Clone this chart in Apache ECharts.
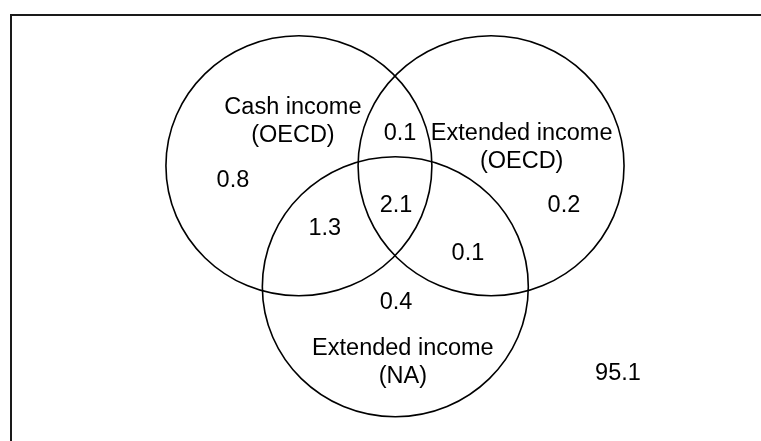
<!DOCTYPE html>
<html>
<head>
<meta charset="utf-8">
<script src="https://cdn.jsdelivr.net/npm/echarts@6/dist/echarts.min.js"></script>
<style>html,body{margin:0;padding:0;background:#fff;}#chart{width:761px;height:441px;}</style>
</head>
<body>
<div id="chart"></div>
<script>
// Venn layout (units: circle radius = 10)
const circleNames = ['Cash income (OECD)', 'Extended income (OECD)', 'Extended income (NA)'];
const circleX = [21.65, 36.1, 28.9];
const circleY = [11.6, 11.6, 20.9];
const circleR = [10, 10, 10];

const setLabels = ['Cash income\n(OECD)', 'Extended income\n(OECD)', 'Extended income\n(NA)'];
const setLabelX = [21.2, 38.4, 29.47];
const setLabelY = [8.19, 10.19, 26.73];

// region shares (%)
const regionValues = [0.8, 0.1, 0.2, 1.3, 2.1, 0.1, 0.4, 95.1];
const regionX = [16.69, 29.25, 41.58, 23.6, 28.95, 34.36, 28.95, 45.64];
const regionY = [12.77, 9.08, 14.62, 16.46, 14.62, 18.31, 22.08, 27.54];

const FONT = 'Liberation Sans, Arial, sans-serif';

const chart = echarts.init(document.getElementById('chart'), null, {renderer: 'canvas'});

const circleData = circleX.map((x, i) => [x, circleY[i], circleR[i], circleNames[i]]);
const setLabelData = setLabelX.map((x, i) => [x, setLabelY[i], setLabels[i]]);
const regionData = regionX.map((x, i) => [x, regionY[i], regionValues[i].toFixed(1)]);

function textItem(params, api) {
  const p = api.coord([api.value(0), api.value(1)]);
  return {
    type: 'text',
    x: p[0], y: p[1],
    style: {
      text: String(api.value(2)),
      fontSize: 23.5,
      fontFamily: FONT,
      fill: '#000',
      align: 'center',
      verticalAlign: 'middle',
      lineHeight: 28
    }
  };
}

chart.setOption({
  animation: false,
  backgroundColor: '#fff',
  grid: {
    left: 11, top: 15, width: 758, height: 429,
    outerBoundsMode: 'none',
    containLabel: false,
    show: true, borderColor: '#1a1a1a', borderWidth: 2, backgroundColor: 'transparent'
  },
  xAxis: { type: 'value', min: 0, max: 57, show: false },
  yAxis: { type: 'value', min: 0, max: 33, inverse: true, show: false },
  series: [
    {
      type: 'custom',
      data: circleData,
      dimensions: ['x', 'y', 'r', 'name'],
      renderItem: function (params, api) {
        const c = api.coord([api.value(0), api.value(1)]);
        const s = api.size([api.value(2), api.value(2)]);
        return {
          type: 'ellipse',
          shape: { cx: c[0], cy: c[1], rx: s[0], ry: s[1] },
          style: { fill: 'none', stroke: '#000', lineWidth: 1.6 }
        };
      },
      clip: false,
      silent: true
    },
    {
      type: 'custom',
      data: setLabelData,
      renderItem: textItem,
      silent: true
    },
    {
      type: 'custom',
      data: regionData,
      renderItem: textItem,
      silent: true
    }
  ]
});
</script>
</body>
</html>
